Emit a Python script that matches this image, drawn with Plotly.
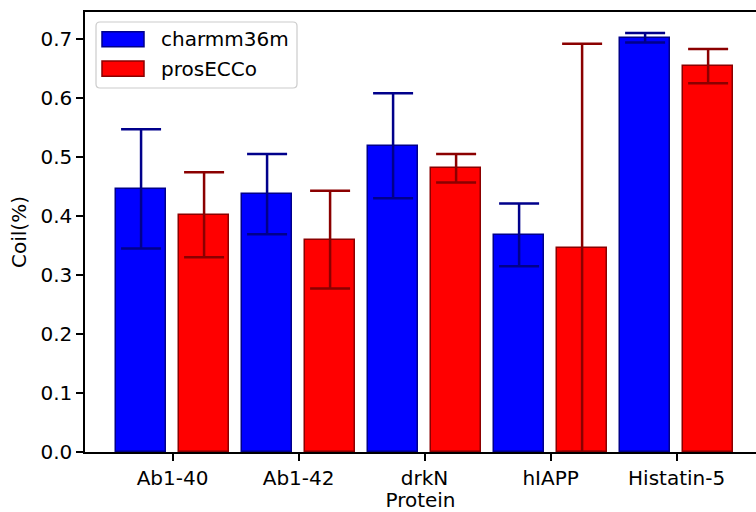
import plotly.graph_objects as go

proteins = ["Ab1-40", "Ab1-42", "drkN", "hIAPP", "Histatin-5"]
charmm_mean = [0.446, 0.437, 0.519, 0.368, 0.702]
charmm_err = [0.101, 0.068, 0.089, 0.053, 0.008]
prosecco_mean = [0.402, 0.360, 0.481, 0.346, 0.654]
prosecco_err = [0.072, 0.083, 0.024, 0.346, 0.029]
y_ticks = [0.0, 0.1, 0.2, 0.3, 0.4, 0.5, 0.6, 0.7]

W, H = 756, 512
L, R, T, B = 85, 0, 12, 60
FONT = dict(family="DejaVu Sans", size=20, color="black")

idx = list(range(len(proteins)))

fig = go.Figure()
fig.add_trace(go.Bar(
    x=[i - 0.25 for i in idx], y=charmm_mean, width=0.4, name="charmm36m",
    marker=dict(color="#0000ff", line=dict(color="#00008b", width=1.5)),
    error_y=dict(type="data", array=charmm_err, visible=True,
                 color="#00008b", thickness=2.5, width=20),
    showlegend=False,
))
fig.add_trace(go.Bar(
    x=[i + 0.25 for i in idx], y=prosecco_mean, width=0.4, name="prosECCo",
    marker=dict(color="#ff0000", line=dict(color="#8b0000", width=1.5)),
    error_y=dict(type="data", array=prosecco_err, visible=True,
                 color="#8b0000", thickness=2.5, width=20),
    showlegend=False,
))

# helpers: pixel -> paper coordinates (legend decoration only)
pw, ph = W - L - R, H - T - B
def px(x):
    return (x - L) / pw
def py(y):
    return (H - B - y) / ph

shapes = []
# legend frame with rounded corners
x0, x1, y0, y1, r = 96, 297, 22, 88, 4
path = (f"M {px(x0 + r)},{py(y0)} L {px(x1 - r)},{py(y0)} "
        f"Q {px(x1)},{py(y0)} {px(x1)},{py(y0 + r)} "
        f"L {px(x1)},{py(y1 - r)} Q {px(x1)},{py(y1)} {px(x1 - r)},{py(y1)} "
        f"L {px(x0 + r)},{py(y1)} Q {px(x0)},{py(y1)} {px(x0)},{py(y1 - r)} "
        f"L {px(x0)},{py(y0 + r)} Q {px(x0)},{py(y0)} {px(x0 + r)},{py(y0)} Z")
shapes.append(dict(type="path", xref="paper", yref="paper", path=path,
                   fillcolor="rgba(255,255,255,0.8)",
                   line=dict(color="#cccccc", width=1.2), layer="above"))
legend_items = [("charmm36m", "#0000ff", "#00008b", 31.7, 46.7),
                ("prosECCo", "#ff0000", "#8b0000", 61.0, 76.3)]
annotations = []
for label, fill, edge, ya, yb in legend_items:
    shapes.append(dict(type="rect", xref="paper", yref="paper",
                       x0=px(102), x1=px(144), y0=py(yb), y1=py(ya),
                       fillcolor=fill, line=dict(color=edge, width=1.5),
                       layer="above"))
    annotations.append(dict(x=px(159), y=py((ya + yb) / 2), xref="paper", yref="paper",
                            text=label, showarrow=False, xanchor="left",
                            yanchor="middle", font=FONT))

fig.update_layout(
    width=W, height=H,
    margin=dict(l=L, r=R, t=T, b=B),
    paper_bgcolor="white", plot_bgcolor="white",
    font=FONT,
    shapes=shapes, annotations=annotations,
    bargap=0,
)
fig.update_xaxes(
    range=[-0.695, 4.630], tickmode="array", tickvals=idx, ticktext=proteins,
    showline=True, linecolor="black", linewidth=1.5, mirror=True,
    ticks="outside", ticklen=7, tickwidth=1.5, tickcolor="black",
    showgrid=False, zeroline=False,
    title=dict(text="Protein", font=FONT, standoff=6),
    tickfont=FONT,
)
fig.update_yaxes(
    range=[0, 0.7458], tickmode="array", tickvals=y_ticks,
    ticktext=[f"{v:.1f}" for v in y_ticks],
    showline=True, linecolor="black", linewidth=1.5, mirror=False,
    ticks="outside", ticklen=7, tickwidth=1.5, tickcolor="black",
    showgrid=False, zeroline=False,
    title=dict(text="Coil(%)", font=FONT, standoff=8),
    tickfont=FONT,
)

fig.write_html("out.html")
